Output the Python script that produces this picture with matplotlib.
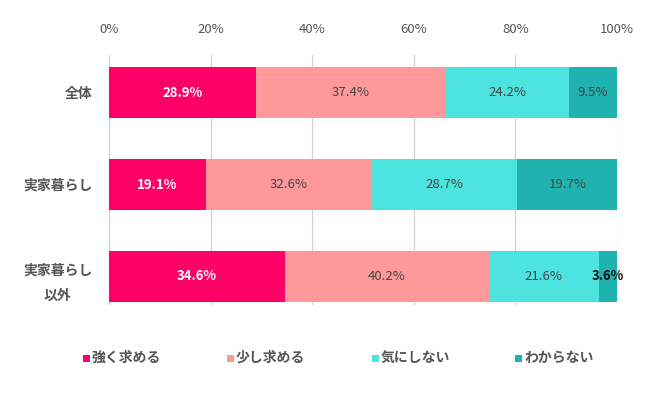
import matplotlib
matplotlib.use("Agg")
import matplotlib.pyplot as plt
from matplotlib.patches import Rectangle

plt.rcParams['font.family'] = ['Noto Sans CJK JP', 'DejaVu Sans']

categories = ["全体", "実家暮らし", "実家暮らし\n以外"]
series_names = ["強く求める", "少し求める", "気にしない", "わからない"]
values = [
    [28.9, 19.1, 34.6],
    [37.4, 32.6, 40.2],
    [24.2, 28.7, 21.6],
    [9.5, 19.7, 3.6],
]
colors = ["#FF0066", "#FF9999", "#4DE3DF", "#1FB2AF"]
label_colors = ["white", "#444444", "#444444", "#444444"]
ticks = [0, 20, 40, 60, 80, 100]

W, H = 650, 393
fig = plt.figure(figsize=(6.5, 3.93), dpi=100)
ax = fig.add_axes([109/W, 88/H, (617-109)/W, (305-55)/H])

ypos = list(range(len(categories)))
left = [0.0] * len(categories)
for s, name in enumerate(series_names):
    vals = values[s]
    ax.barh(ypos, vals, left=left, height=0.555, color=colors[s], label=name, zorder=2)
    for i, v in enumerate(vals):
        cx = left[i] + v / 2
        if v < 5:
            ax.text(cx, ypos[i], f"{v}%", ha='center', va='center', fontsize=9.5,
                    color="#111111", fontweight='bold', zorder=3)
        else:
            ax.text(cx, ypos[i], f"{v}%", ha='center', va='center', fontsize=9.5,
                    color=label_colors[s], fontweight='bold' if s == 0 else 'normal', zorder=3)
    left = [left[i] + vals[i] for i in range(len(vals))]

ax.set_xlim(0, 100)
ax.set_ylim(2.31, -0.408)
ax.set_xticks(ticks)
ax.set_xticklabels([f"{t}%" for t in ticks], fontsize=9.5, color="#555555")
ax.xaxis.tick_top()
ax.tick_params(axis='x', length=0, pad=14)
ax.set_yticks(ypos)
ax.set_yticklabels(categories, fontsize=10, color="#555555", fontweight='bold', linespacing=2.0)
for lab in ax.get_yticklabels():
    lab.set_multialignment('center')
ax.tick_params(axis='y', length=0, pad=12)
ax.grid(axis='x', color="#d0d0d0", linewidth=0.9, zorder=0)
for sp in ax.spines.values():
    sp.set_visible(False)

# legend (manual, positioned in figure pixels)
leg_x = [83, 227, 372, 515]
leg_y = 358
for s, name in enumerate(series_names):
    fig.add_artist(Rectangle((leg_x[s]/W, (H - leg_y - 3.5)/H), 7/W, 7/H,
                             transform=fig.transFigure, facecolor=colors[s], edgecolor='none'))
    fig.text((leg_x[s] + 9)/W, (H - leg_y)/H, name, ha='left', va='center',
             fontsize=10, color="#555555", fontweight='bold')

fig.savefig("out.png", dpi=100)
